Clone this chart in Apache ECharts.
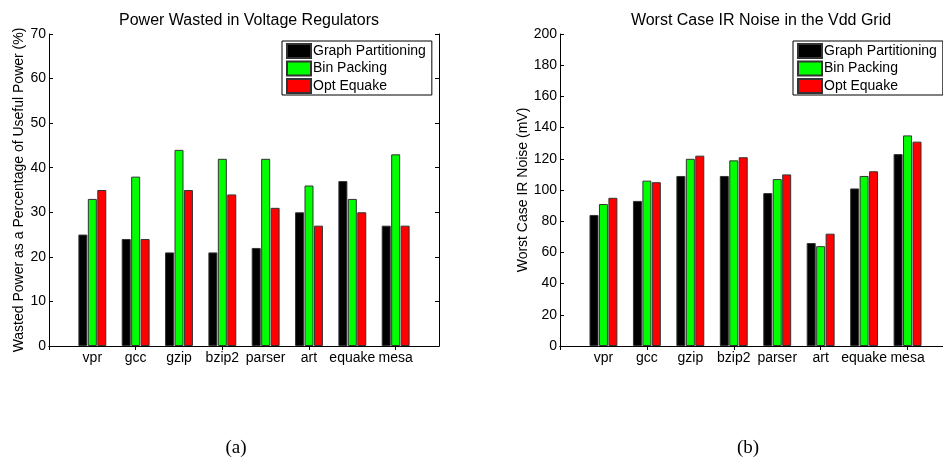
<!DOCTYPE html>
<html>
<head>
<meta charset="utf-8">
<script src="https://cdn.jsdelivr.net/npm/echarts@6/dist/echarts.min.js"></script>
<style>
  html, body { margin: 0; padding: 0; background: #fff; }
  #chart { width: 943px; height: 462px; }
</style>
</head>
<body>
<div id="chart"></div>
<script>
// Benchmarks on the x axis
const benchmarks = ['vpr', 'gcc', 'gzip', 'bzip2', 'parser', 'art', 'equake', 'mesa'];
const methodNames = ['Graph Partitioning', 'Bin Packing', 'Opt Equake'];
const methodColors = ['#000000', '#00ff00', '#ff0000'];

// (a) Power wasted in voltage regulators, % of useful power
const wastedGraphPartitioning = [25, 24, 21, 21, 22, 30, 37, 27];
const wastedBinPacking        = [33, 38, 44, 42, 42, 36, 33, 43];
const wastedOptEquake         = [35, 24, 35, 34, 31, 27, 30, 27];
const wastedTicks = { min: 0, max: 70, interval: 10 };

// (b) Worst case IR noise in the Vdd grid, mV
const noiseGraphPartitioning = [84, 93, 109, 109, 98, 66, 101, 123];
const noiseBinPacking        = [91, 106, 120, 119, 107, 64, 109, 135];
const noiseOptEquake         = [95, 105, 122, 121, 110, 72, 112, 131];
const noiseTicks = { min: 0, max: 200, interval: 20 };

const FONT = 'Arial, "Liberation Sans", Helvetica, sans-serif';
const SERIF = '"Times New Roman", "Liberation Serif", serif';

// Pad the category axis with an empty slot on each side so the benchmarks sit at 1..8 of a 0..9 range
const axisCats = [''].concat(benchmarks, ['']);
const pad = arr => ['-'].concat(arr, ['-']);

function xAxes(gridIndex) {
  const base = {
    type: 'category', gridIndex, data: axisCats, boundaryGap: false,
    axisLine: { lineStyle: { color: '#000', width: 1 } },
    axisTick: { inside: true, length: 4, alignWithLabel: true, lineStyle: { color: '#000' } },
    splitLine: { show: false }
  };
  return [
    Object.assign({}, base, {
      position: 'bottom',
      axisLabel: { interval: 0, color: '#000', fontSize: 14, fontFamily: FONT, margin: 5 }
    }),
    Object.assign({}, base, { position: 'top', axisLabel: { show: false } })
  ];
}

function yAxes(gridIndex, ticks, name, nameGap) {
  const base = {
    type: 'value', gridIndex, min: ticks.min, max: ticks.max, interval: ticks.interval,
    axisLine: { show: true, lineStyle: { color: '#000', width: 1 } },
    axisTick: { show: true, inside: true, length: 4, lineStyle: { color: '#000' } },
    splitLine: { show: false }
  };
  return [
    Object.assign({}, base, {
      position: 'left', name, nameLocation: 'middle', nameGap,
      nameTextStyle: { color: '#000', fontSize: 14, fontFamily: FONT },
      axisLabel: { color: '#000', fontSize: 14, fontFamily: FONT, margin: 3 }
    }),
    Object.assign({}, base, { position: 'right', axisLabel: { show: false } })
  ];
}

function barSeries(values, i, axisIndex) {
  return {
    type: 'bar', name: methodNames[i], data: pad(values),
    xAxisIndex: axisIndex, yAxisIndex: axisIndex,
    barWidth: 9, barGap: '5%',
    itemStyle: { color: methodColors[i], borderColor: '#333', borderWidth: 1 },
    emphasis: { disabled: true }
  };
}

function legendAt(left, top) {
  return {
    left, top, orient: 'vertical', selectedMode: false,
    data: methodNames,
    icon: 'rect', itemWidth: 24, itemHeight: 14, itemGap: 1.5,
    padding: [2, 6, 1, 4],
    borderColor: '#000', borderWidth: 1, backgroundColor: '#fff',
    textStyle: { color: '#000', fontSize: 14, fontFamily: FONT, padding: [0, 0, 0, -3] }
  };
}

const chart = echarts.init(document.getElementById('chart'), null, { renderer: 'canvas' });
chart.setOption({
  animation: false,
  backgroundColor: '#fff',
  title: [
    { text: 'Power Wasted in Voltage Regulators', left: 244, top: 8, textAlign: 'center',
      textStyle: { color: '#000', fontSize: 16, fontWeight: 'normal', fontFamily: FONT } },
    { text: 'Worst Case IR Noise in the Vdd Grid', left: 756, top: 8, textAlign: 'center',
      textStyle: { color: '#000', fontSize: 16, fontWeight: 'normal', fontFamily: FONT } },
    { text: '(a)', left: 231, top: 434, textAlign: 'center',
      textStyle: { color: '#000', fontSize: 19, fontWeight: 'normal', fontFamily: SERIF } },
    { text: '(b)', left: 743, top: 434, textAlign: 'center',
      textStyle: { color: '#000', fontSize: 19, fontWeight: 'normal', fontFamily: SERIF } }
  ],
  legend: [legendAt(282, 41), legendAt(793, 41)],
  grid: [
    { left: 49, top: 34, width: 390, height: 312, outerBoundsMode: 'none' },
    { left: 560, top: 34, width: 391, height: 312, outerBoundsMode: 'none' }
  ],
  xAxis: xAxes(0).concat(xAxes(1)),
  yAxis: yAxes(0, wastedTicks, 'Wasted Power as a Percentage of Useful Power (%)', 18)
    .concat(yAxes(1, noiseTicks, 'Worst Case IR Noise (mV)', 29)),
  series: [
    barSeries(wastedGraphPartitioning, 0, 0),
    barSeries(wastedBinPacking, 1, 0),
    barSeries(wastedOptEquake, 2, 0),
    barSeries(noiseGraphPartitioning, 0, 2),
    barSeries(noiseBinPacking, 1, 2),
    barSeries(noiseOptEquake, 2, 2)
  ]
});
</script>
</body>
</html>
